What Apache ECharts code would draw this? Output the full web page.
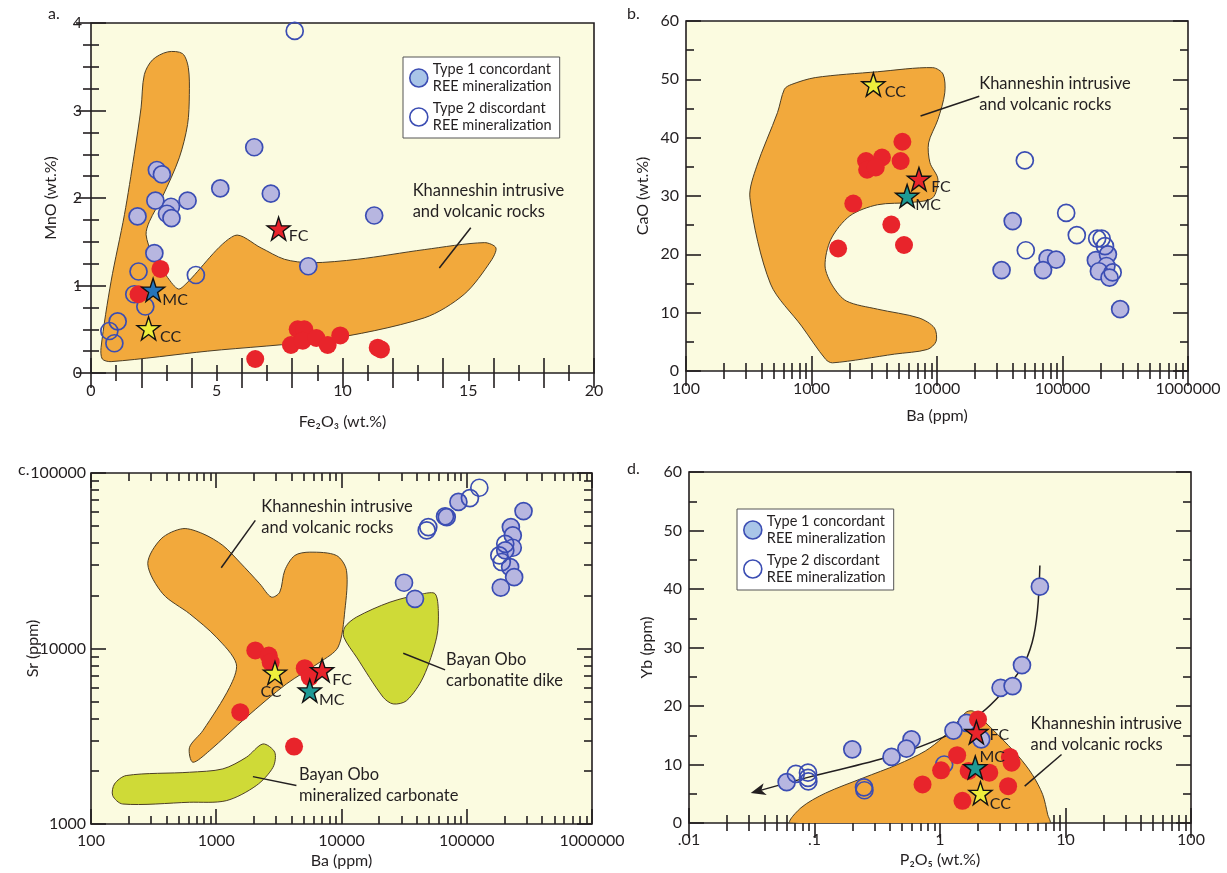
<!DOCTYPE html>
<html><head><meta charset="utf-8">
<script src="https://cdn.jsdelivr.net/npm/echarts@6/dist/echarts.min.js"></script>
<style>html,body{margin:0;padding:0;background:#fff}#c{width:1227px;height:873px}</style>
</head><body><div id="c"></div>
<script>
// ================= DATA =================
// ---- Panel a: Fe2O3 (wt.%) vs MnO (wt.%)
const aXTickValues = [0, 5, 10, 15, 20];
const aXTickLabels = ['0', '5', '10', '15', '20'];
const aYTickValues = [0, 1, 2, 3, 4];
const aYTickLabels = ['0', '1', '2', '3', '4'];
const aType1 = [[6.49,2.58],[2.62,2.32],[2.82,2.27],[5.14,2.11],[7.15,2.05],[2.56,1.97],[3.18,1.90],[3.84,1.97],[3.02,1.82],[3.2,1.77],[1.85,1.79],[11.26,1.80],[2.52,1.37],[8.64,1.22]];
const aType2 = [[8.1,3.91],[1.89,1.16],[4.17,1.12],[1.72,0.90],[2.16,0.76],[1.06,0.59],[0.73,0.48],[0.93,0.34]];
const aKhan = [[2.76,1.19],[1.89,0.90],[8.22,0.50],[8.48,0.50],[7.95,0.32],[8.42,0.37],[8.96,0.40],[9.41,0.32],[9.91,0.43],[11.4,0.29],[11.53,0.27],[6.53,0.16]];
const aStars = [['FC',7.46,1.65],['MC',2.47,0.95],['CC',2.29,0.51]];
const aField = [[0.40,0.29],[0.80,1.05],[1.33,1.81],[1.72,2.5],[1.99,3.03],[2.12,3.41],[2.45,3.58],[3.05,3.67],[3.64,3.65],[3.87,3.49],[3.91,3.18],[3.84,2.84],[3.51,2.46],[2.85,2.02],[2.32,1.73],[2.19,1.58],[2.45,1.35],[3.05,1.09],[3.47,0.96],[3.78,1.02],[5.7,1.57],[6.76,1.43],[7.69,1.30],[8.75,1.26],[10.6,1.30],[13.25,1.41],[15.64,1.49],[16.1,1.43],[15.9,1.28],[14.84,0.9],[13.25,0.63],[9.28,0.38],[4.64,0.25],[0.8,0.13],[0.45,0.16]];
const aNotes = [['Khanneshin intrusive\nand volcanic rocks', 12.79, 2.08]];
const aLeaders = [[[15.1,1.66],[13.85,1.2]]];

// ---- Panel b: Ba (ppm) vs CaO (wt.%)
const bXTickValues = [100, 1000, 10000, 100000, 1000000];
const bXTickLabels = ['100', '1000', '10000', '100000', '1000000'];
const bYTickValues = [0, 10, 20, 30, 40, 50, 60];
const bYTickLabels = ['0', '10', '20', '30', '40', '50', '60'];
const bType1 = [[40100,25.7],[76000,19.3],[89000,19.1],[70000,17.3],[32700,17.3],[184500,19.0],[230000,20.0],[224000,18.0],[195000,17.1],[237000,16.0],[288000,10.6]];
const bType2 = [[50100,36.1],[107000,27.1],[130000,23.3],[51000,20.7],[189000,22.7],[205000,22.7],[218000,21.4],[251000,16.9]];
const bKhan = [[5300,39.3],[2720,36.0],[3645,36.6],[5130,36.0],[2775,34.5],[3250,34.9],[2153,28.7],[4325,25.1],[5460,21.6],[1630,21.0]];
const bStars = [['CC',3112,49.1],['FC',7180,32.9],['MC',5780,30.0]];
const bField = [[689,49.1],[1072,50.3],[3357,51.3],[9247,52.0],[11169,50.9],[11535,47.7],[10162,43.1],[8570,39.1],[8790,35.7],[10162,32.9],[9247,29.7],[6310,28.9],[3357,28.5],[2023,26.6],[1429,22.6],[1282,18.0],[1472,14.6],[1897,12.0],[3357,10.6],[7178,9.1],[9528,7.4],[9840,5.1],[8395,3.7],[4603,2.9],[1472,1.4],[1297,2.0],[834,7.7],[472,14.9],[323,29.7],[366,35.1],[536,44.3],[608,48.3]];
const bNotes = [['Khanneshin intrusive\nand volcanic rocks', 21700, 49.1]];
const bLeaders = [[[7396,43.7],[21730,47.1]]];

// ---- Panel c: Ba (ppm) vs Sr (ppm)
const cXTickValues = [100, 1000, 10000, 100000, 1000000];
const cXTickLabels = ['100', '1000', '10000', '100000', '1000000'];
const cYTickValues = [1000, 10000, 100000];
const cYTickLabels = ['1000', '10000', '100000'];
const cType1 = [[31560,23700],[38600,19200],[69200,56100],[85800,68400],[284000,60700],[225000,49200],[233000,44100],[233000,37500],[203000,36200],[222000,29100],[239000,25500],[187000,22200]];
const cType2 = [[49300,49200],[47900,47100],[67100,56600],[106000,72000],[126000,82400],[182000,33900],[190500,31100],[203000,39500]];
const cKhan = [[2050,9750],[2625,9120],[2720,8360],[5090,7720],[5580,6870],[1555,4335],[4180,2760]];
const cStars = [['CC',2943,7260],['FC',7000,7500],['MC',5580,5750]];
const cField = [[284,30410],[363,42170],[541,48190],[782,45080],[1130,38640],[1538,31050],[2223,23390],[2754,19630],[3214,20940],[3524,27860],[4236,33880],[5585,35400],[9120,33880],[10960,27860],[10640,16480],[9397,10190],[6714,8356],[3631,6281],[1738,4055],[885,2618],[650,2249],[612,2735],[782,3404],[1279,6012],[1445,8185],[1000,11610],[612,15780],[374,20510]];
const cDike = [[10640,13240],[13180,15100],[24380,18370],[44980,20510],[55850,20510],[59290,16480],[57540,11610],[44980,6871],[33110,5047],[25880,4831],[21530,5272],[13180,8933],[10440,11610]];
const cCarb = [[154,1690],[191,1888],[612,1972],[1130,2061],[1738,2399],[2360,2858],[2931,2564],[2838,2104],[2089,1656],[1202,1358],[612,1330],[179,1300],[149,1452]];
const cNotes = [['Khanneshin intrusive\nand volcanic rocks', 2290, 63970], ['Bayan Obo\ncarbonatite dike', 68400, 8610], ['Bayan Obo\nmineralized carbonate', 4580, 1888]];
const cLeaders = [[[1096,28840],[2051,53700]], [[31120,9397],[67140,7551]], [[1963,1862],[4365,1656]]];

// ---- Panel d: P2O5 (wt.%) vs Yb (ppm)
const dXTickValues = [0.01, 0.1, 1, 10, 100];
const dXTickLabels = ['.01', '.1', '1', '10', '100'];
const dYTickValues = [0, 10, 20, 30, 40, 50, 60];
const dYTickLabels = ['0', '10', '20', '30', '40', '50', '60'];
const dType1 = [[6.25,40.4],[4.5,27.0],[3.04,23.1],[3.79,23.4],[1.63,17.1],[1.28,15.8],[0.593,14.3],[0.54,12.7],[0.411,11.3],[0.2,12.6],[0.06,7.0],[2.13,14.3]];
const dType2 = [[0.071,8.4],[0.0887,8.6],[0.0887,7.7],[0.0893,7.1],[0.248,6.1],[0.25,5.6],[1.08,10.0]];
const dKhan = [[2.01,17.7],[1.37,11.6],[1.02,9.0],[1.69,8.9],[2.47,8.6],[3.6,11.3],[3.72,10.3],[0.726,6.6],[3.49,6.3],[1.51,3.8]];
const dStars = [['FC',1.95,15.5],['MC',1.91,9.5],['CC',2.1,5.1]];
const dTrend = [[0.0333,5.3],[0.0887,7.8],[0.405,11.4],[1.12,14.9],[2.1,18.7],[3.08,22.1],[4.5,26.6],[5.43,30.9],[5.98,36.3],[6.25,44.0]];
const dField = [[0.0647,0],[0.078,2.6],[0.122,5.1],[0.244,7.7],[0.46,10.0],[0.763,12.3],[1.05,14.6],[1.35,17.1],[1.63,19.0],[1.85,19.1],[2.17,17.7],[2.89,15.1],[4.22,11.4],[5.43,8.3],[6.57,4.9],[7.22,1.4],[7.46,0]];
const dNotes = [['Khanneshin intrusive\nand volcanic rocks', 5.27, 16.9]];
const dLeaders = [[[9.3,11.7],[4.73,6.3]]];

const T1 = 'Type 1 concordant\nREE mineralization';
const T2 = 'Type 2 discordant\nREE mineralization';

// ================= STYLE =================
const INK = '#231f20';
const BLUE = '#3b4db3';
const LAV = '#b7b6e0';
const RED = '#e8242b';
const ORANGE = '#f2a93c';
const GREEN = '#cfda37';
const BG = '#fbfbe0';
const FONT = 'Lato, "Open Sans", sans-serif';
const STAR = 'path://M50,2 L61.8,36.2 L97.6,36.2 L68.6,57.4 L79.4,92 L50,71 L20.6,92 L31.4,57.4 L2.4,36.2 L38.2,36.2 Z';

const grids = [
  {left: 91, top: 23, width: 503, height: 350},
  {left: 686, top: 21, width: 502, height: 350},
  {left: 91, top: 473, width: 501, height: 351},
  {left: 689, top: 472, width: 502, height: 351}
].map(g => Object.assign({show: true, backgroundColor: BG, borderColor: INK, borderWidth: 1.6, containLabel: false, outerBoundsMode: 'none'}, g));

function fmt(values, labels) {
  return function (v) {
    for (let i = 0; i < values.length; i++) {
      if (Math.abs(values[i] - v) <= 1e-6 * Math.max(1, Math.abs(v))) return labels[i];
    }
    return '';
  };
}

function mkAxis(gi, pos, c, primary) {
  const a = {
    gridIndex: gi, position: pos, type: c.type, min: c.min, max: c.max, interval: c.interval,
    axisLine: {show: false},
    axisTick: {show: true, inside: true, length: 15, lineStyle: {color: INK, width: 1.6}},
    minorTick: {show: true, splitNumber: c.minor, length: 8, lineStyle: {color: INK, width: 1.6}},
    splitLine: {show: false}, minorSplitLine: {show: false},
    axisLabel: {show: primary, color: INK, fontFamily: FONT, fontSize: 16, margin: c.margin, formatter: fmt(c.values, c.labels)},
    silent: true
  };
  if (c.type === 'log') a.logBase = 10;
  if (primary && c.custom) a.axisLabel.customValues = c.values;
  if (primary) {
    a.name = c.name; a.nameLocation = 'middle'; a.nameGap = c.nameGap; a.nameMoveOverlap = false;
    a.nameTextStyle = {color: INK, fontFamily: FONT, fontSize: 16};
  }
  return a;
}

const xCfg = [
  {type: 'value', min: 0, max: 20, interval: 2, minor: 2, values: aXTickValues, labels: aXTickLabels, custom: true, margin: 10, name: 'Fe₂O₃ (wt.%)', nameGap: 41},
  {type: 'log', min: 100, max: 1000000, interval: 1, minor: 9, values: bXTickValues, labels: bXTickLabels, margin: 10, name: 'Ba (ppm)', nameGap: 37},
  {type: 'log', min: 100, max: 1000000, interval: 1, minor: 9, values: cXTickValues, labels: cXTickLabels, margin: 9, name: 'Ba (ppm)', nameGap: 29},
  {type: 'log', min: 0.01, max: 100, interval: 1, minor: 9, values: dXTickValues, labels: dXTickLabels, margin: 9, name: 'P₂O₅ (wt.%)', nameGap: 29}
];
const yCfg = [
  {type: 'value', min: 0, max: 4, interval: 1, minor: 4, values: aYTickValues, labels: aYTickLabels, margin: 9, name: 'MnO (wt.%)', nameGap: 32},
  {type: 'value', min: 0, max: 60, interval: 10, minor: 2, values: bYTickValues, labels: bYTickLabels, margin: 7, name: 'CaO (wt.%)', nameGap: 35},
  {type: 'log', min: 1000, max: 100000, interval: 1, minor: 9, values: cYTickValues, labels: cYTickLabels, margin: 5, name: 'Sr (ppm)', nameGap: 50},
  {type: 'value', min: 0, max: 60, interval: 10, minor: 2, values: dYTickValues, labels: dYTickLabels, margin: 7, name: 'Yb (ppm)', nameGap: 34}
];

const xAxes = [], yAxes = [];
for (let gi = 0; gi < 4; gi++) {
  xAxes.push(mkAxis(gi, 'bottom', xCfg[gi], true));
  xAxes.push(mkAxis(gi, 'top', xCfg[gi], false));
  yAxes.push(mkAxis(gi, 'left', yCfg[gi], true));
  yAxes.push(mkAxis(gi, 'right', yCfg[gi], false));
}

function ax(gi) { return {xAxisIndex: gi * 2, yAxisIndex: gi * 2}; }

function fieldSeries(gi, pts, color) {
  return Object.assign({
    type: 'custom', name: 'field', silent: true, z: 1, clip: true,
    data: [pts[0]],
    renderItem: function (params, api) {
      return {type: 'polygon', shape: {points: pts.map(p => api.coord(p)), smooth: 0.3},
        style: {fill: color, stroke: '#4d3f26', lineWidth: 1}};
    }
  }, ax(gi));
}

function leaderSeries(gi, segs) {
  return Object.assign({
    type: 'custom', name: 'leaders', silent: true, z: 2,
    data: segs.map(s => s[0]),
    renderItem: function (params, api) {
      const s = segs[params.dataIndex];
      const p1 = api.coord(s[0]), p2 = api.coord(s[1]);
      return {type: 'line', shape: {x1: p1[0], y1: p1[1], x2: p2[0], y2: p2[1]}, style: {stroke: INK, lineWidth: 1.5}};
    }
  }, ax(gi));
}

function noteSeries(gi, notes) {
  return Object.assign({
    type: 'custom', name: 'notes', silent: true, z: 7,
    data: notes.map(n => [n[1], n[2]]),
    renderItem: function (params, api) {
      const n = notes[params.dataIndex];
      const p = api.coord([n[1], n[2]]);
      return {type: 'text', x: p[0], y: p[1] - 11,
        style: {text: n[0], fill: INK, fontFamily: FONT, fontSize: 16.5, lineHeight: 21, align: 'left', verticalAlign: 'top'}};
    }
  }, ax(gi));
}

function trendSeries(gi, pts) {
  return Object.assign({
    type: 'custom', name: 'trend', silent: true, z: 3,
    data: [pts[0]],
    renderItem: function (params, api) {
      const P = pts.map(p => api.coord(p));
      const a = P[0], b = P[1];
      const dx = a[0] - b[0], dy = a[1] - b[1];
      const L = Math.sqrt(dx * dx + dy * dy); const ux = dx / L, uy = dy / L;
      const tip = [a[0] + ux * 4, a[1] + uy * 4];
      const back = [tip[0] - ux * 15, tip[1] - uy * 15];
      const nx = -uy, ny = ux;
      return {type: 'group', children: [
        {type: 'polyline', shape: {points: P, smooth: 0.35}, style: {stroke: INK, lineWidth: 1.5, fill: null}},
        {type: 'polygon', shape: {points: [tip, [back[0] + nx * 6, back[1] + ny * 6], [back[0] + ux * 4, back[1] + uy * 4], [back[0] - nx * 6, back[1] - ny * 6]]}, style: {fill: INK}}
      ]};
    }
  }, ax(gi));
}

function scat(gi, name, data, itemStyle, size, z) {
  return Object.assign({type: 'scatter', name: name, data: data, symbol: 'circle', symbolSize: size, itemStyle: itemStyle, z: z, silent: true}, ax(gi));
}
const t1Style = {color: LAV, borderColor: BLUE, borderWidth: 1.7, opacity: 1};
const t2Style = {color: 'rgba(0,0,0,0)', borderColor: BLUE, borderWidth: 1.7, opacity: 1};
const khStyle = {color: RED, borderWidth: 0, opacity: 1};

function starSeries(gi, arr, colors, offsets) {
  return Object.assign({
    type: 'scatter', name: 'Reference compositions', symbol: STAR, symbolSize: 23, z: 6, silent: true,
    itemStyle: {borderColor: '#111', borderWidth: 1.4, opacity: 1},
    label: {show: true, position: 'inside', formatter: '{b}', color: INK, fontFamily: FONT, fontSize: 16},
    data: arr.map(s => ({name: s[0], value: [s[1], s[2]], itemStyle: {color: colors[s[0]]}, label: {offset: offsets[s[0]]}}))
  }, ax(gi));
}
const starColA = {FC: RED, MC: '#2574b9', CC: '#eeee3c'};
const starCol = {FC: RED, MC: '#1e9a95', CC: '#eeee3c'};

const series = [
  // a
  fieldSeries(0, aField, ORANGE), leaderSeries(0, aLeaders),
  scat(0, T1, aType1, t1Style, 17, 3), scat(0, T2, aType2, t2Style, 17, 3), scat(0, 'Khanneshin samples', aKhan, khStyle, 18, 4),
  starSeries(0, aStars, starColA, {FC: [20, 7], MC: [22, 10], CC: [22, 8]}), noteSeries(0, aNotes),
  // b
  fieldSeries(1, bField, ORANGE), leaderSeries(1, bLeaders),
  scat(1, T1, bType1, t1Style, 17, 3), scat(1, T2, bType2, t2Style, 17, 3), scat(1, 'Khanneshin samples', bKhan, khStyle, 18, 4),
  starSeries(1, bStars, starCol, {CC: [22, 7], FC: [22, 8], MC: [21, 9]}), noteSeries(1, bNotes),
  // c
  fieldSeries(2, cField, ORANGE), fieldSeries(2, cDike, GREEN), fieldSeries(2, cCarb, GREEN), leaderSeries(2, cLeaders),
  scat(2, T1, cType1, t1Style, 17, 3), scat(2, T2, cType2, t2Style, 17, 3), scat(2, 'Khanneshin samples', cKhan, khStyle, 18, 4),
  starSeries(2, cStars, starCol, {CC: [-4, 19], FC: [20, 9], MC: [22, 9]}), noteSeries(2, cNotes),
  // d
  fieldSeries(3, dField, ORANGE), leaderSeries(3, dLeaders), trendSeries(3, dTrend),
  scat(3, T1, dType1, t1Style, 17, 3), scat(3, T2, dType2, t2Style, 17, 3), scat(3, 'Khanneshin samples', dKhan, khStyle, 18, 4),
  starSeries(3, dStars, starCol, {FC: [23, 3], MC: [17, -11], CC: [20, 11]}), noteSeries(3, dNotes)
];

function mkLegend(left, top) {
  return {
    left: left, top: top, orient: 'vertical', selectedMode: false,
    data: [{name: T1, icon: 'circle', itemStyle: {color: '#a9c5e8', borderColor: BLUE, borderWidth: 1.6}},
           {name: T2, icon: 'circle', itemStyle: {color: '#ffffff', borderColor: BLUE, borderWidth: 1.6}}],
    backgroundColor: '#ffffff', borderColor: '#555', borderWidth: 1,
    padding: [4, 8, 4, 6], itemGap: 5, itemWidth: 18, itemHeight: 18,
    textStyle: {color: INK, fontFamily: FONT, fontSize: 14.5, lineHeight: 17}
  };
}

const titleStyle = {color: INK, fontFamily: FONT, fontSize: 16, fontWeight: 'normal'};
const option = {
  animation: false,
  backgroundColor: '#ffffff',
  title: [
    {text: 'a.', left: 48, top: 6, textStyle: titleStyle, padding: 0},
    {text: 'b.', left: 627, top: 6, textStyle: titleStyle, padding: 0},
    {text: 'c.', left: 18, top: 462, textStyle: titleStyle, padding: 0},
    {text: 'd.', left: 627, top: 461, textStyle: titleStyle, padding: 0}
  ],
  legend: [mkLegend(403, 57), mkLegend(737, 509)],
  grid: grids,
  xAxis: xAxes,
  yAxis: yAxes,
  series: series
};
const chart = echarts.init(document.getElementById('c'), null, {renderer: 'canvas'});
chart.setOption(option);
</script></body></html>
